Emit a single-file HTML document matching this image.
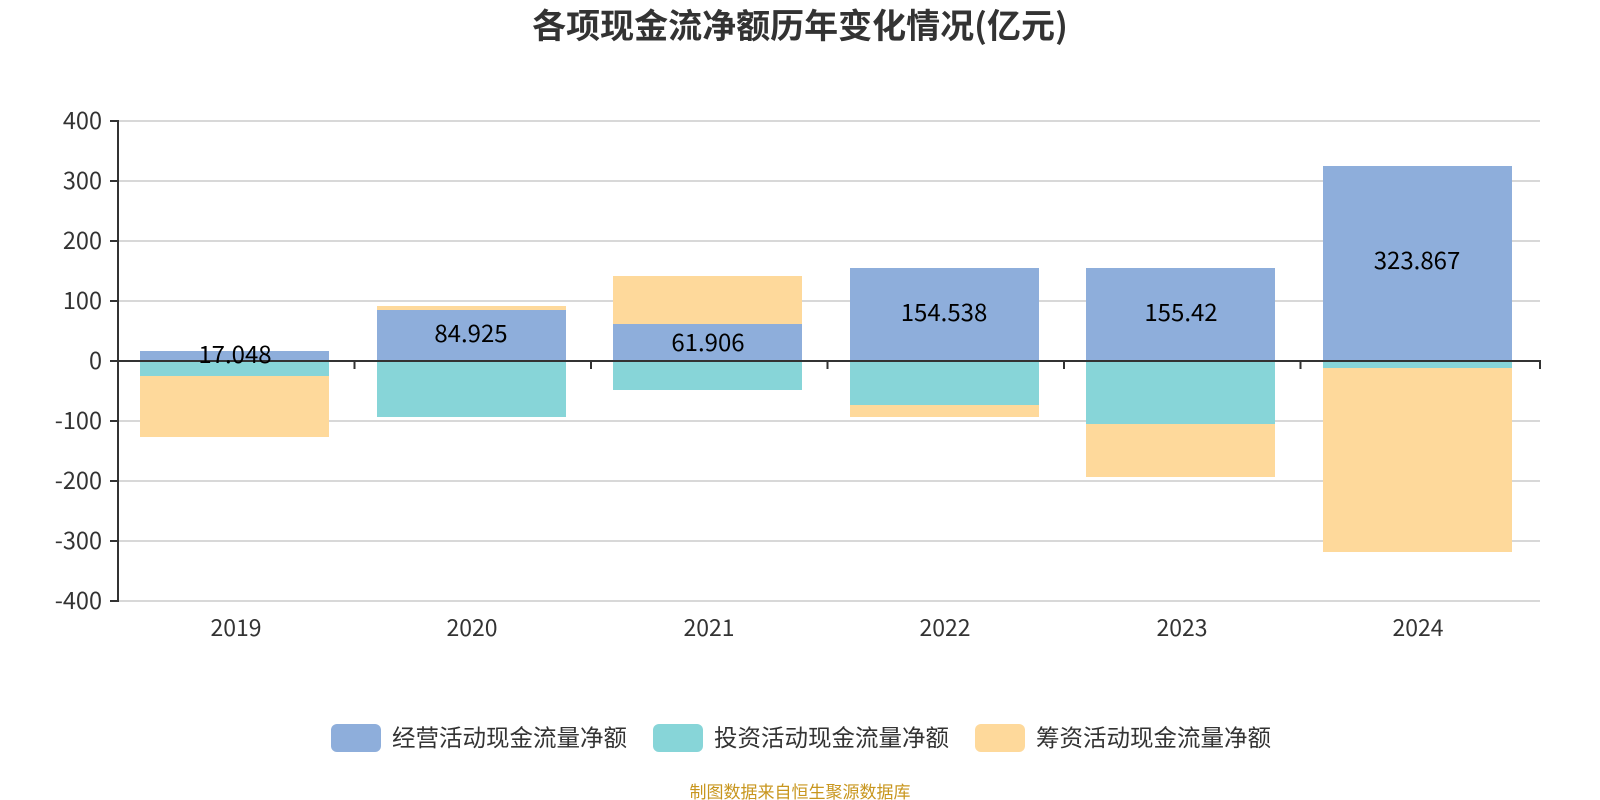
<!DOCTYPE html>
<html><head><meta charset="utf-8"><style>body{margin:0;background:#fff}svg{display:block}</style></head>
<body>
<svg width="1600" height="800" xmlns="http://www.w3.org/2000/svg" font-family="'Noto Sans CJK SC','Liberation Sans',sans-serif">
<text x="800" y="38" text-anchor="middle" font-size="34" font-weight="bold" fill="#333">各项现金流净额历年变化情况(亿元)</text>
<g stroke="#ccc" stroke-width="1.5">
<line x1="118" x2="1540" y1="121" y2="121"/><line x1="118" x2="1540" y1="181" y2="181"/>
<line x1="118" x2="1540" y1="241" y2="241"/><line x1="118" x2="1540" y1="301" y2="301"/>
<line x1="118" x2="1540" y1="421" y2="421"/><line x1="118" x2="1540" y1="481" y2="481"/>
<line x1="118" x2="1540" y1="541" y2="541"/><line x1="118" x2="1540" y1="601" y2="601"/>
</g>
<g font-size="23.5" fill="#333" text-anchor="end">
<text x="102" y="129">400</text><text x="102" y="189">300</text><text x="102" y="249">200</text>
<text x="102" y="309">100</text><text x="102" y="369">0</text><text x="102" y="429">-100</text>
<text x="102" y="489">-200</text><text x="102" y="549">-300</text><text x="102" y="609">-400</text>
</g>
<g>
<rect x="140" y="351" width="189" height="10" fill="#8eaedb"/>
<rect x="140" y="361" width="189" height="15" fill="#87d5d8"/>
<rect x="140" y="376" width="189" height="61" fill="#fed99b"/>
<rect x="377" y="306" width="189" height="4" fill="#fed99b"/>
<rect x="377" y="310" width="189" height="51" fill="#8eaedb"/>
<rect x="377" y="361" width="189" height="56" fill="#87d5d8"/>
<rect x="613" y="276" width="189" height="48" fill="#fed99b"/>
<rect x="613" y="324" width="189" height="37" fill="#8eaedb"/>
<rect x="613" y="361" width="189" height="29" fill="#87d5d8"/>
<rect x="850" y="268" width="189" height="93" fill="#8eaedb"/>
<rect x="850" y="361" width="189" height="44" fill="#87d5d8"/>
<rect x="850" y="405" width="189" height="12" fill="#fed99b"/>
<rect x="1086" y="268" width="189" height="93" fill="#8eaedb"/>
<rect x="1086" y="361" width="189" height="63" fill="#87d5d8"/>
<rect x="1086" y="424" width="189" height="53" fill="#fed99b"/>
<rect x="1323" y="166" width="189" height="195" fill="#8eaedb"/>
<rect x="1323" y="361" width="189" height="7" fill="#87d5d8"/>
<rect x="1323" y="368" width="189" height="184" fill="#fed99b"/>
</g>
<g stroke="#333" stroke-width="2">
<line x1="118" y1="120" x2="118" y2="602"/>
<line x1="110" y1="121" x2="118" y2="121"/><line x1="110" y1="181" x2="118" y2="181"/>
<line x1="110" y1="241" x2="118" y2="241"/><line x1="110" y1="301" x2="118" y2="301"/>
<line x1="110" y1="361" x2="118" y2="361"/><line x1="110" y1="421" x2="118" y2="421"/>
<line x1="110" y1="481" x2="118" y2="481"/><line x1="110" y1="541" x2="118" y2="541"/>
<line x1="110" y1="601" x2="118" y2="601"/>
<line x1="118" y1="361" x2="1541" y2="361"/>
<line x1="354.5" y1="361" x2="354.5" y2="369"/><line x1="591" y1="361" x2="591" y2="369"/>
<line x1="827.5" y1="361" x2="827.5" y2="369"/><line x1="1064" y1="361" x2="1064" y2="369"/>
<line x1="1300.5" y1="361" x2="1300.5" y2="369"/><line x1="1540" y1="361" x2="1540" y2="369"/>
</g>
<g font-size="24" fill="#000" text-anchor="middle">
<text x="235" y="363">17.048</text><text x="471" y="342">84.925</text>
<text x="708" y="351">61.906</text><text x="944" y="321">154.538</text>
<text x="1181" y="321">155.42</text><text x="1417" y="269">323.867</text>
</g>
<g font-size="23" fill="#333" text-anchor="middle">
<text x="236" y="636">2019</text><text x="472" y="636">2020</text><text x="709" y="636">2021</text>
<text x="945" y="636">2022</text><text x="1182" y="636">2023</text><text x="1418" y="636">2024</text>
</g>
<g font-size="23.5" fill="#333">
<rect x="331" y="724" width="50" height="28" rx="6" fill="#8eaedb"/><text x="392" y="746">经营活动现金流量净额</text>
<rect x="653" y="724" width="50" height="28" rx="6" fill="#87d5d8"/><text x="714" y="746">投资活动现金流量净额</text>
<rect x="975" y="724" width="50" height="28" rx="6" fill="#fed99b"/><text x="1036" y="746">筹资活动现金流量净额</text>
</g>
<text x="800" y="798" text-anchor="middle" font-size="17" fill="#c8961e">制图数据来自恒生聚源数据库</text>
</svg>
</body></html>
